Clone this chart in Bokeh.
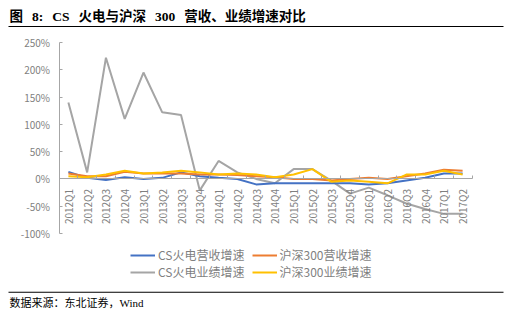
from bokeh.plotting import figure
from bokeh.models import (Range1d, FixedTicker, PrintfTickFormatter,
                          Legend, LegendItem, Label, BoxAnnotation)
from bokeh.embed import file_html
from bokeh.resources import INLINE
import math

quarters = ["2012Q1", "2012Q2", "2012Q3", "2012Q4", "2013Q1", "2013Q2", "2013Q3", "2013Q4",
            "2014Q1", "2014Q2", "2014Q3", "2014Q4", "2015Q1", "2015Q2", "2015Q3", "2015Q4",
            "2016Q1", "2016Q2", "2016Q3", "2016Q4", "2017Q1", "2017Q2"]

cs_rev = [13, 2, -2, 3, 0, 2, 12, 5, 2, 0, -10, -8, -8, -8, -8, -8, -10, -8, -3, 2, 10, 10]
hs_rev = [10, 5, 5, 13, 10, 10, 10, 8, 8, 7, 5, 3, 0, 0, -3, 0, 2, 0, 5, 10, 17, 15]
cs_prof = [140, 12, 222, 110, 195, 122, 117, -21, 33, 12, 0, -8, 18, 18, -3, -27, -16, -30, -45, -55, -64, -64]
hs_prof = [5, 3, 8, 15, 10, 12, 15, 12, 8, 10, 8, 3, 8, 18, -5, -3, -5, -8, 8, 8, 15, 8]

series_names = ["CS火电营收增速", "沪深300营收增速", "CS火电业绩增速", "沪深300业绩增速"]
series_colors = ["#4472C4", "#ED7D31", "#A5A5A5", "#FFC000"]
y_ticks = [-100, -50, 0, 50, 100, 150, 200, 250]

SP = "\u2002\u2006"
title_text = "图" + SP + "8:" + SP + "CS" + SP + "火电与沪深" + SP + "300" + SP + "营收、业绩增速对比"
source_text = "数据来源：东北证券，Wind"

FONT = "Noto Sans CJK SC"
SERIF = "'Liberation Serif', 'Noto Sans CJK SC'"

W, H = 508, 313
# plot-area placement (pixels) inside the canvas
AREA_L, AREA_R, AREA_T, AREA_B = 58.5, 471.5, 42, 233
n = len(quarters)
ymin, ymax = y_ticks[0], y_ticks[-1]
px_x = (AREA_R - AREA_L) / n
px_y = (AREA_B - AREA_T) / (ymax - ymin)
x_start = -0.5 - AREA_L / px_x
x_end = n - 0.5 + (W - AREA_R) / px_x
y_end = ymax + AREA_T / px_y
y_start = ymin - (H - AREA_B) / px_y

p = figure(width=W, height=H, x_range=Range1d(x_start, x_end), y_range=Range1d(y_start, y_end),
           output_backend="svg", toolbar_location=None,
           min_border=0, min_border_left=0, min_border_right=0, min_border_top=0, min_border_bottom=0)
p.outline_line_color = None
p.xgrid.visible = False
p.ygrid.visible = False
p.background_fill_color = "white"
p.border_fill_color = "white"

xs = list(range(n))
data = [cs_rev, hs_rev, cs_prof, hs_prof]
rmap = {}
for i in [2, 0, 1, 3]:
    rmap[i] = p.line(xs, data[i], line_color=series_colors[i], line_width=2)

# y axis
p.yaxis.fixed_location = -0.5
p.yaxis.bounds = (ymin, ymax)
p.yaxis.ticker = FixedTicker(ticks=y_ticks)
p.yaxis.formatter = PrintfTickFormatter(format="%d%%")
p.yaxis.axis_line_color = "#A6A6A6"
p.yaxis.major_tick_line_color = "#A6A6A6"
p.yaxis.major_tick_in = 3
p.yaxis.major_tick_out = 0
p.yaxis.minor_tick_line_color = None
p.yaxis.major_label_text_color = "#7F7F7F"
p.yaxis.major_label_text_font = FONT
p.yaxis.major_label_text_font_size = "10px"
p.yaxis.major_label_standoff = 9

# x axis at 0%
p.xaxis.fixed_location = 0
p.xaxis.bounds = (-0.5, n - 0.5)
p.xaxis.ticker = FixedTicker(ticks=xs, minor_ticks=[i - 0.5 for i in range(n + 1)])
p.xaxis.major_label_overrides = {i: q for i, q in enumerate(quarters)}
p.xaxis.axis_line_color = "#A6A6A6"
p.xaxis.major_tick_line_color = None
p.xaxis.minor_tick_line_color = "#A6A6A6"
p.xaxis.minor_tick_in = 3
p.xaxis.minor_tick_out = 0
p.xaxis.major_label_orientation = math.pi / 2
p.xaxis.major_label_text_color = "#7F7F7F"
p.xaxis.major_label_text_font = FONT
p.xaxis.major_label_text_font_size = "10px"
p.xaxis.major_label_standoff = 4


def make_legend(idx, loc):
    lg = Legend(items=[LegendItem(label=series_names[i], renderers=[rmap[i]]) for i in idx],
                location=loc, orientation="horizontal")
    lg.label_text_font = FONT
    lg.label_text_font_size = "12px"
    lg.label_text_color = "#7F7F7F"
    lg.glyph_width = 25
    lg.glyph_height = 14
    lg.label_height = 14
    lg.spacing = 7
    lg.padding = 0
    lg.margin = 0
    lg.label_standoff = 3
    lg.border_line_color = None
    lg.background_fill_alpha = 0
    p.add_layout(lg, "center")


make_legend([0, 1], (130, H - 263))
make_legend([2, 3], (130, H - 280))

p.add_layout(Label(x=9, y=H - 15.5, x_units="screen", y_units="screen", text=title_text,
                   text_font=SERIF, text_font_style="bold", text_font_size="13.5px",
                   text_color="black", text_baseline="middle"))
p.add_layout(BoxAnnotation(left=8, right=503, bottom=H - 26.6, top=H - 25.4, left_units="screen",
                           right_units="screen", bottom_units="screen", top_units="screen",
                           fill_color="black", fill_alpha=1, line_color=None))
p.add_layout(BoxAnnotation(left=8, right=503, bottom=H - 292.3, top=H - 291.3, left_units="screen",
                           right_units="screen", bottom_units="screen", top_units="screen",
                           fill_color="black", fill_alpha=1, line_color=None))
p.add_layout(Label(x=9, y=H - 302.5, x_units="screen", y_units="screen", text=source_text,
                   text_font=SERIF, text_font_size="11px", text_color="black",
                   text_baseline="middle"))

open("out.html", "w").write(file_html(p, INLINE))
